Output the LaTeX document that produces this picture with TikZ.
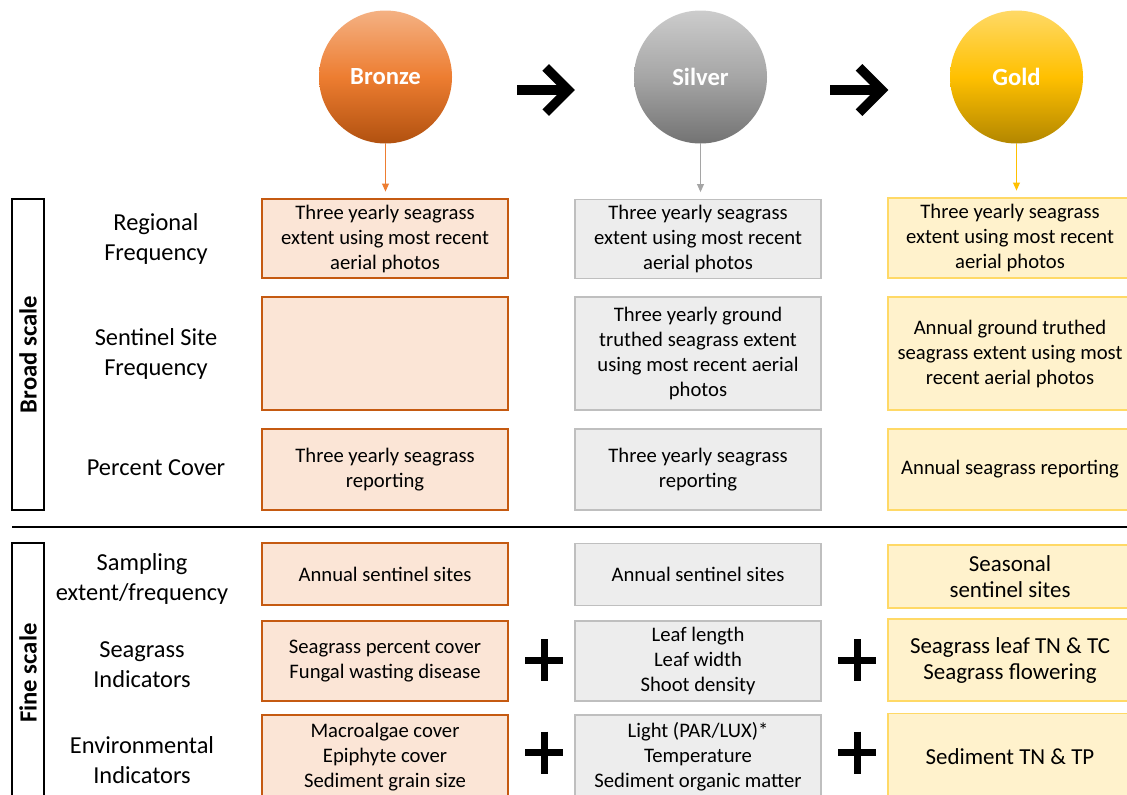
\documentclass[tikz,border=0pt]{standalone}
\usepackage{fontspec}
\setmainfont{Carlito}
\usetikzlibrary{arrows.meta}

\definecolor{bronzeline}{HTML}{C55A11}
\definecolor{bronzefill}{HTML}{FBE5D6}
\definecolor{bronzearrow}{HTML}{ED7D31}
\definecolor{bronzetop}{HTML}{F4B183}
\definecolor{silverline}{HTML}{BFBFBF}
\definecolor{silverfill}{HTML}{EDEDED}
\definecolor{silverarrow}{HTML}{A5A5A5}
\definecolor{goldline}{HTML}{FFD966}
\definecolor{goldfill}{HTML}{FFF2CC}
\definecolor{goldarrow}{HTML}{FFC000}

\def\cellfont{\fontsize{15.5pt}{18.75pt}\selectfont}
\def\goldfont{\fontsize{17.2pt}{19.5pt}\selectfont}
\def\labelfont{\fontsize{18.3pt}{22.5pt}\selectfont}

\begin{document}
\begin{tikzpicture}[x=0.75pt,y=-0.75pt,>={Triangle[length=6pt,width=5pt]},
		semithick]
		\tikzstyle{level}=[circle,minimum size=99.75pt,inner sep=0pt,text=white,
			font=\fontsize{18.5pt}{20pt}\selectfont\bfseries]
		\tikzstyle{cell}=[draw,line width=1pt,minimum width=184.5pt,align=center,
			inner sep=2pt,font=\cellfont]
		\tikzstyle{bronzecell}=[cell,draw=bronzeline,fill=bronzefill]
		\tikzstyle{silvercell}=[cell,draw=silverline,fill=silverfill]
		\tikzstyle{goldcell}=[cell,draw=goldline,fill=goldfill,minimum width=183pt]
		\tikzstyle{rowlabel}=[align=center,font=\labelfont]
		\tikzstyle{scalebox}=[draw,line width=1.5pt,rotate=90,minimum height=24pt,
			inner sep=0pt,font=\fontsize{18.5pt}{20pt}\selectfont\bfseries]
		\tikzstyle{bigarrow}=[line width=7pt,-{Straight Barb[length=17pt,width=34pt]}]
		\tikzstyle{plusmark}=[line width=5.25pt]
		
		\clip (0,0) rectangle (1127,794);
		\fill[white] (0,0) rectangle (1127,794);
		
		% levels
		\node[level,top color=bronzetop,bottom color=bronzeline!90!black,
			middle color=bronzearrow] (bronze) at (385.5,77) {Bronze};
		\node[level,top color=black!20,bottom color=black!55,
			middle color=black!35] (silver) at (700.5,77) {Silver};
		\node[level,top color=goldline,bottom color=goldarrow!70!black,
			middle color=goldarrow] (gold) at (1016.5,77) {Gold};
		
		\draw[bigarrow,shorten <=48.75pt,shorten >=44pt]
			([yshift=-9.75pt]bronze.east) -- ([yshift=-9.75pt]silver.west);
		\draw[bigarrow,shorten <=47pt,shorten >=46pt]
			([yshift=-9.75pt]silver.east) -- ([yshift=-9.75pt]gold.west);
		
		% broad scale
		\node[scalebox,minimum width=233.25pt] (broad) at (28,354.5) {Broad scale};
		\node[rowlabel] (l1) at (156,238.5) {Regional\\Frequency};
		\node[rowlabel] (l2) at (156,353.5) {Sentinel Site\\Frequency};
		\node[rowlabel] (l3) at (156,468) {Percent Cover};
		
		\node[bronzecell,minimum height=59.25pt] (b1) at (385,238.5)
			{Three yearly seagrass\\extent using most recent\\aerial photos};
		\node[bronzecell,minimum height=84.75pt] (b2) at (385,353.5) {};
		\node[bronzecell,minimum height=60.75pt] (b3) at (385,469.5)
			{Three yearly seagrass\\reporting};
		
		\node[silvercell,minimum height=59.25pt] (s1) at (698,239)
			{Three yearly seagrass\\extent using most recent\\aerial photos};
		\node[silvercell,minimum height=84.75pt] (s2) at (698,353.5)
			{Three yearly ground\\truthed seagrass extent\\using most recent aerial\\photos};
		\node[silvercell,minimum height=60.75pt] (s3) at (698,469.5)
			{Three yearly seagrass\\reporting};
		
		\node[goldcell,minimum height=60pt] (g1) at (1010,238)
			{Three yearly seagrass\\extent using most recent\\aerial photos};
		\node[goldcell,minimum height=84.75pt] (g2) at (1010,353.5)
			{Annual ground truthed\\seagrass extent using most\\recent aerial photos};
		\node[goldcell,minimum height=60.75pt] (g3) at (1010,469.5)
			{Annual seagrass reporting};
		
		\draw[->,bronzearrow,line width=1.1pt,shorten >=5pt] (bronze.south) -- (bronze.south |- b1.north);
		\draw[->,silverarrow,line width=1.1pt,shorten >=5pt] (silver.south) -- (silver.south |- s1.north);
		\draw[->,goldarrow,line width=1.1pt,shorten >=5pt] (gold.south) -- (gold.south |- g1.north);
		
		\draw[line width=1.5pt] (12,527) -- (1127,527);
		
		% fine scale
		\node[scalebox,minimum width=195pt] (fine) at (28,673) {Fine scale};
		\node[rowlabel] (l4) at (142,579) {Sampling\\extent/frequency};
		\node[rowlabel] (l5) at (142,665) {Seagrass\\Indicators};
		\node[rowlabel] (l6) at (142,760) {Environmental\\Indicators};
		
		\node[bronzecell,minimum height=46.5pt] (b4) at (385,574) {Annual sentinel sites};
		\node[bronzecell,minimum height=60pt] (b5) at (385,661)
			{Seagrass percent cover\\Fungal wasting disease};
		\node[bronzecell,minimum height=63pt] (b6) at (385,757)
			{Macroalgae cover\\Epiphyte cover\\Sediment grain size};
		
		\node[silvercell,minimum height=46.5pt] (s4) at (698,574.5) {Annual sentinel sites};
		\node[silvercell,minimum height=60pt] (s5) at (698,661)
			{Leaf length\\Leaf width\\Shoot density};
		\node[silvercell,minimum height=63pt] (s6) at (698,757)
			{Light (PAR/LUX)*\\Temperature\\Sediment organic matter};
		
		\node[goldcell,minimum height=47.25pt,font=\goldfont] (g4) at (1010,576.5)
			{Seasonal\\sentinel sites};
		\node[goldcell,minimum height=61.5pt,font=\goldfont] (g5) at (1010,660)
			{Seagrass leaf TN \& TC\\Seagrass flowering};
		\node[goldcell,minimum height=65pt,font=\goldfont] (g6) at (1010,757)
			{Sediment TN \& TP};
		
		\foreach \p in {(544,660),(544,752.5),(857,660),(857,752.5)}
			\draw[plusmark] \p +(-19,0) -- +(19,0) \p +(0,-21) -- +(0,21);
	\end{tikzpicture}
\end{document}
